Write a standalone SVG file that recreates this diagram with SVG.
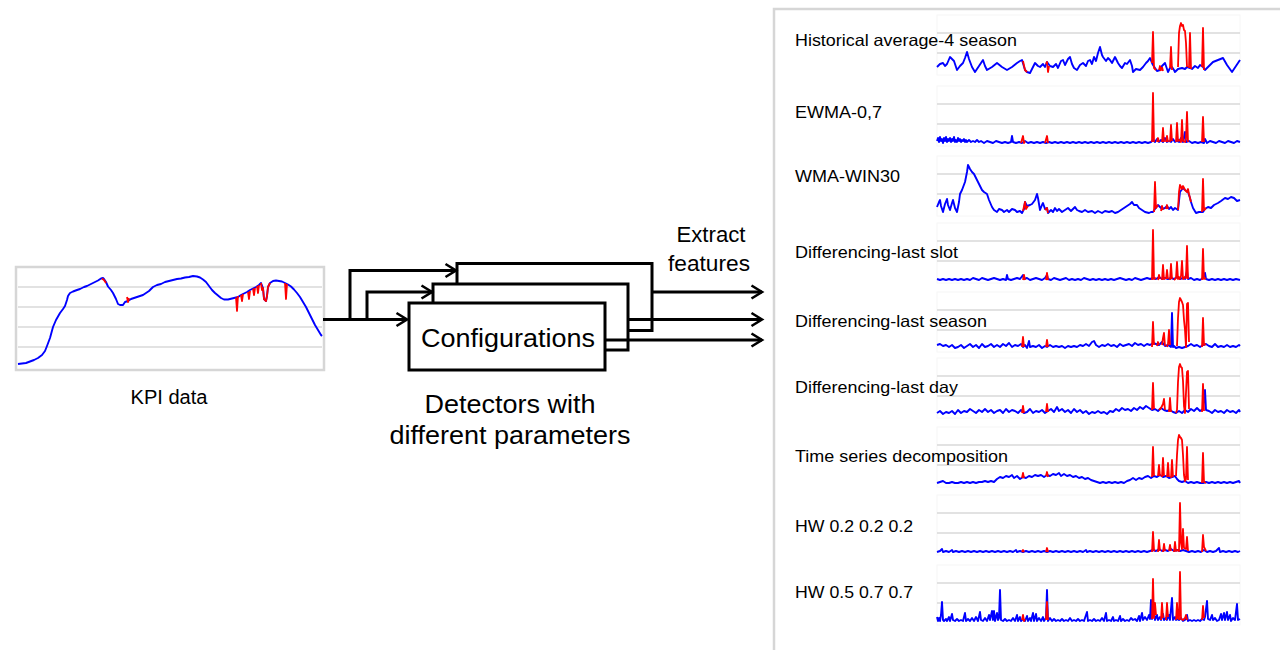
<svg xmlns="http://www.w3.org/2000/svg" width="1280" height="650" viewBox="0 0 1280 650">
  <defs>
    <style>
      .lbl { font-family: "Liberation Sans", Arial, sans-serif; fill: #000; }
      .frame { fill: #fff; stroke: #d6d6d6; stroke-width: 2.5; }
      .grid { stroke: #d9d9d9; stroke-width: 1.4; fill: none; }
      .plotbox { fill: none; stroke: #f6f6f6; stroke-width: 1; }
      .blue { fill: none; stroke: #0000ff; stroke-width: 1.9; stroke-linejoin: round; }
      .red { fill: none; stroke: #ff0000; stroke-width: 1.8; stroke-linejoin: round; }
      .box { fill: #fff; stroke: #000; stroke-width: 3; }
      .wire { fill: none; stroke: #000; stroke-width: 3; marker-end: url(#chev); }
    </style>
    <marker id="chev" markerUnits="userSpaceOnUse" markerWidth="16" markerHeight="18" viewBox="-13 -9 16 18" refX="0" refY="0" orient="auto">
      <path d="M-10.5,-6.5 L0,0 L-10.5,6.5" fill="none" stroke="#000" stroke-width="2.6"/>
    </marker>
  </defs>

  <!-- KPI input series -->
  <g id="kpi">
    <rect class="frame" x="16" y="267" width="308" height="103"/>
    <path class="grid" d="M18,287 H322 M18,307 H322 M18,327 H322 M18,347 H322"/>
    <path class="blue" d="M18,364 L22,363.5 26,363 30,361.5 34,360 38,358 42,355 45,351 47,346 50,338 53,327 56,320 60,313 63,309 65,306 67,300 68,296 70,293 73,291.5 77,290 80,289 84,287 87,286 91,284 95,282 98,280.5 101,278.5 103,278 104,279 106,282 108,286.5 111,290 113,293 116,299 118,304 120,305 123,305 125,302 128,301 131,299 134,298 137,297 140,296 143,295 146,293 149,291 151,289 153,287 157,285 161,284 165,282 169,281 173,280 177,279 181,278.5 185,277.5 189,277 193,276 197,276.5 200,277.5 203,279.5 206,282 209,286 212,290 215,293 218,295.5 221,298 224,299.5 228,299.5 232,298.5 236,297.5 238,297 241,295 244,293.5 247,292 250,290 253,288.5 256,287 259,285 261,283 263,288 264,299 266,301 267,296 268,287 270,283 273,281 276,280.5 279,281 282,281.5 285,283 288,284.5 291,286.5 294,289.5 297,293 300,297 303,302 306,307 309,313 312,319 315,325 318,330 321,335 322,336"/>
    <path class="red" d="M102,278.5 L104,280 106,283 M127,297 L128,302 129,298 M236,297.5 L237,311 238,296 M241,295 L242,301 243,294 M248,292 L249,299 250,291 M253,288.5 L254,295 255,288 M257,286 L258,293 259,285 M261,283 L262,290 263,288 264,299 266,301 267,296 268,287 270,283 M285,283 L286,299 287,284"/>
    <text class="lbl" x="169" y="404" font-size="20" text-anchor="middle" textLength="77" lengthAdjust="spacingAndGlyphs">KPI data</text>
  </g>

  <!-- stacked detector configurations -->
  <g id="detector-3"><rect class="box" x="457" y="263.5" width="195" height="67"/></g>
  <g id="detector-2"><rect class="box" x="433" y="284" width="195" height="66"/></g>
  <g id="detector-1">
    <rect class="box" x="409" y="303" width="196" height="67"/>
    <text class="lbl" x="508" y="347" font-size="25" text-anchor="middle" textLength="174" lengthAdjust="spacingAndGlyphs">Configurations</text>
  </g>
  <g id="detectors-caption">
    <text class="lbl" x="510" y="413" font-size="25" text-anchor="middle" textLength="171" lengthAdjust="spacingAndGlyphs">Detectors with</text>
    <text class="lbl" x="510" y="444" font-size="25" text-anchor="middle" textLength="241" lengthAdjust="spacingAndGlyphs">different parameters</text>
  </g>

  <!-- connectors -->
  <g id="connectors">
    <path class="wire" d="M323,319.5 H407"/>
    <path class="wire" d="M350,319.5 V270.5 H456"/>
    <path class="wire" d="M367,319.5 V292 H432"/>
    <path class="wire" d="M652,292 H762"/>
    <path class="wire" d="M628,319.5 H762"/>
    <path class="wire" d="M605,340 H762"/>
    <text class="lbl" x="711" y="242" font-size="22" text-anchor="middle" textLength="69" lengthAdjust="spacingAndGlyphs">Extract</text>
    <text class="lbl" x="709" y="271" font-size="22" text-anchor="middle" textLength="82" lengthAdjust="spacingAndGlyphs">features</text>
  </g>

  <!-- feature panel -->
  <g id="features">
    <rect class="frame" x="774" y="9" width="520" height="660"/>

    <g id="f-hist" transform="translate(937,73)">
      <rect class="plotbox" x="0" y="-58" width="303" height="60"/>
      <path class="grid" d="M0,-40 H303 M0,-20 H303"/>
      <path class="blue" d="M0,-6 L3,-9 6,-10 8,-7 10,-9 13,-16 15,-14 17,-12 20,-3 23,-7 26,-10 28,-15 30,-21 32,-14 35,-6 38,-1 42,-7 46,-13 48,-7 50,-3 55,-6 60,-10 65,-6 70,-3 75,-6 80,-10 83,-12 85,-13 88,-3 90,-1 93,0 96,-6 98,-10 101,-7 103,-6 106,-9 108,-6 110,-11 113,-7 116,-6 119,-9 121,-5 124,-12 126,-13 128,-8 131,-14 133,-16 135,-9 137,-5 140,-3 143,-8 146,-10 149,-7 151,-12 153,-13 155,-9 157,-16 159,-12 161,-20 163,-26 165,-18 166,-16 169,-12 171,-15 173,-13 175,-10 178,-16 181,-10 183,-7 185,-5 188,-10 190,-9 193,-13 195,-7 196,-1 199,-4 203,-3 206,-6 209,-10 211,-12 213,-15 215,-10 216,-8 218,-5 220,-2 223,-3 225,-7 228,-10 230,-4 231,-1 233,-5 235,-6 237,-3 238,-1 241,-4 245,-5 248,-4 250,-6 253,-5 255,-4 258,-7 261,-5 263,-8 266,-6 268,-3 272,-7 276,-11 281,-13 286,-15 290,-8 295,-1 299,-7 303,-13"/>
      <path class="red" d="M86,-12 L88,-3 90,-1 M109,-9 L110,-11 111,-1 112,-7 M215,-10 L216,-41 217,-5 219,-3 M222,-3 L223,-7 224,-2 M225,-6 L226,-2 M233,-5 L234,-26 235,-3 M241,-6 L242,-40 243,-47 244,-50 245,-47 246,-48 247,-43 248,-42 249,-30 250,-6 M252,-5 L253,-40 254,-4 M265,-6 L266,-45 267,-3"/>
    </g>
    <text class="lbl" x="795" y="46" font-size="16.5" textLength="222" lengthAdjust="spacingAndGlyphs">Historical average-4 season</text>

    <g id="f-ewma" transform="translate(937,144)">
      <rect class="plotbox" x="0" y="-58" width="303" height="60"/>
      <path class="grid" d="M0,-40 H303 M0,-20 H303"/>
      <path class="blue" d="M0,-3 L1,-6 2,-2 3,-7 4,-3 5,-5 6,-1 7,-6 8,-3 9,-7 10,-2 11,-5 12,-3 13,-6 14,-2 15,-5 16,-3 17,-7 18,-2 19,-4 20,-2 21,-6 22,-3 23,-5 24,-2 25,-4 26,-3 27,-5 28,-2 29,-4 30,-2 32,-4 34,-2 36,-3 38,-2 40,-4 42,-2 44,-3 47,-1 50,-3 53,-2 56,-1 59,-3 62,-2 65,-1 68,-2 71,-1 74,-2 75,-8 76,-2 79,-1 82,-2 85,-1 88,-3 91,-1 94,-2 97,-1 100,-2 103,-1 106,-2 109,-1 112,-2 115,-1 118,-2 121,-1 124,-2 127,-1 130,-2 133,-1 136,-2 139,-1 142,-2 145,-1 148,-2 151,-1 154,-2 157,-1 160,-2 163,-1 166,-2 169,-1 172,-2 175,-1 178,-2 181,-1 184,-2 187,-1 190,-2 193,-1 196,-2 199,-1 202,-2 205,-1 208,-2 211,-1 214,-2 216,-4 218,-2 220,-5 222,-2 224,-4 226,-2 228,-6 230,-2 232,-3 234,-2 236,-5 238,-2 240,-3 242,-2 244,-6 246,-2 248,-12 249,-2 252,-3 255,-1 258,-2 261,-1 264,-2 267,-1 268,-5 270,-1 273,-3 276,-2 279,-1 282,-3 285,-2 288,-1 291,-3 294,-2 297,-1 300,-3 303,-2"/>
      <path class="red" d="M84,-1 L86,-8 87,-1 88,-3 M108,-1 L110,-8 111,-1 M215,-2 L216,-51 217,-2 M220,-2 L221,-6 222,-2 M225,-2 L226,-16 227,-2 M229,-2 L230,-8 231,-2 M233,-2 L234,-19 235,-3 M239,-2 L240,-21 241,-3 243,-4 244,-2 245,-24 246,-3 248,-2 249,-6 250,-32 251,-2 M265,-2 L266,-27 267,-2"/>
    </g>
    <text class="lbl" x="795" y="118" font-size="16.5" textLength="87" lengthAdjust="spacingAndGlyphs">EWMA-0,7</text>

    <g id="f-wma" transform="translate(937,214)">
      <rect class="plotbox" x="0" y="-58" width="303" height="60"/>
      <path class="grid" d="M0,-40 H303 M0,-20 H303"/>
      <path class="blue" d="M0,-7 L2,-12 3,-14 4,-8 6,-2 8,-10 10,-15 11,-9 13,-4 15,-11 16,-14 18,-6 20,-2 22,-12 23,-20 25,-24 28,-32 30,-42 31,-49 33,-45 35,-42 37,-40 40,-34 42,-30 45,-24 47,-22 50,-20 52,-14 55,-7 57,-4 60,-2 62,-5 65,-4 67,-2 70,-4 72,-2 75,-5 78,-4 80,-2 83,-3 85,-1 87,-5 88,-12 90,-8 93,-9 95,-10 98,-14 100,-20 101,-16 103,-4 105,-9 106,-11 108,-5 110,-6 111,-1 114,-4 116,-2 118,-6 120,-3 122,-5 125,-2 128,-4 131,-6 134,-3 136,-5 138,-7 140,-4 142,-3 145,-2 148,-4 151,-2 155,-3 158,-1 161,-3 165,-1 168,-3 172,-2 175,-3 178,-1 181,-2 184,-4 187,-6 190,-8 193,-10 195,-12 197,-9 200,-9 202,-6 205,-4 208,-2 212,-1 214,-2 216,-2 218,-5 221,-9 223,-7 225,-5 228,-6 230,-8 232,-5 234,-7 236,-4 238,-6 241,-4 243,-22 246,-26 248,-24 251,-22 253,-16 254,-12 256,-6 259,-1 262,-2 266,-2 268,-5 271,-7 274,-6 277,-9 281,-11 284,-13 288,-16 291,-15 294,-17 297,-16 300,-13 303,-14"/>
      <path class="red" d="M86,-3 L88,-12 89,-5 91,-8 M108,-4 L110,-6 111,-1 M217,-2 L218,-32 219,-6 221,-9 M224,-3 L225,-8 226,-4 M229,-5 L230,-9 231,-5 M241,-4 L242,-22 243,-29 245,-25 246,-28 248,-24 250,-22 251,-25 252,-20 254,-12 M265,-2 L266,-35 267,-4 269,-6"/>
    </g>
    <text class="lbl" x="795" y="182" font-size="16.5" textLength="105" lengthAdjust="spacingAndGlyphs">WMA-WIN30</text>

    <g id="f-diff-slot" transform="translate(937,281)">
      <rect class="plotbox" x="0" y="-58" width="303" height="60"/>
      <path class="grid" d="M0,-40 H303 M0,-20 H303"/>
      <path class="blue" d="M0,-2 L3,-1 6,-2 9,-1 12,-2 15,-1 18,-2 21,-1 24,-2 27,-1 30,-2 33,-1 36,-3 39,-2 42,-1 45,-3 48,-2 51,-1 54,-2 57,-3 60,-2 63,-1 66,-2 69,-1 70,-6 71,-2 74,-1 77,-2 80,-3 83,-2 86,-6 87,-2 90,-3 93,-1 96,-2 99,-3 102,-2 105,-1 108,-3 110,-6 111,-2 114,-1 117,-3 120,-2 123,-1 126,-2 129,-3 132,-1 135,-2 138,-1 141,-2 144,-1 147,-3 150,-2 153,-1 156,-2 159,-1 162,-2 165,-1 168,-2 171,-1 174,-2 177,-1 180,-2 183,-3 186,-2 189,-1 192,-2 195,-1 198,-3 201,-2 204,-1 207,-2 210,-3 213,-2 216,-3 219,-2 222,-4 225,-2 228,-3 231,-2 234,-3 237,-2 240,-4 243,-2 246,-3 248,-2 250,-10 251,-2 254,-3 257,-1 260,-2 263,-1 266,-3 268,-8 269,-2 272,-1 275,-2 278,-1 281,-2 284,-1 287,-2 290,-1 293,-2 296,-1 299,-2 303,-1"/>
      <path class="red" d="M86,-1 L87,-6 88,-1 M109,-1 L110,-8 111,-1 M215,-1 L216,-51 217,-2 219,-3 M221,-1 L222,-6 223,-2 M225,-1 L226,-16 227,-2 228,-3 M229,-2 L230,-11 231,-2 M233,-1 L234,-17 235,-2 M237,-1 L239,-3 240,-19 241,-2 242,-4 243,-2 244,-5 245,-20 246,-2 248,-4 249,-3 250,-35 251,-2 M265,-1 L266,-32 267,-2 269,-3"/>
    </g>
    <text class="lbl" x="795" y="258" font-size="16.5" textLength="163" lengthAdjust="spacingAndGlyphs">Differencing-last slot</text>

    <g id="f-diff-season" transform="translate(937,350)">
      <rect class="plotbox" x="0" y="-58" width="303" height="60"/>
      <path class="grid" d="M0,-40 H303 M0,-20 H303"/>
      <path class="blue" d="M0,-5 L3,-6 6,-4 9,-5 12,-3 15,-5 18,-2 21,-3 24,-5 27,-2 30,-4 33,-6 36,-3 39,-5 42,-2 45,-6 48,-3 51,-4 54,-6 57,-3 60,-5 63,-3 66,-6 69,-4 72,-7 75,-3 78,-5 81,-4 84,-6 86,-3 88,-5 90,-2 92,-9 93,-3 96,-4 99,-3 102,-5 105,-2 108,-4 110,-3 113,-5 116,-3 119,-4 122,-3 125,-4 128,-2 131,-4 134,-3 137,-4 140,-3 143,-5 146,-4 149,-6 152,-4 155,-8 157,-9 159,-5 162,-3 165,-5 168,-4 171,-6 174,-4 177,-5 180,-3 183,-6 186,-4 189,-5 192,-6 195,-4 198,-7 201,-5 204,-6 207,-4 210,-6 213,-5 216,-7 219,-6 222,-5 225,-8 228,-4 231,-5 234,-3 235,-37 236,-3 237,-4 239,-2 242,-3 245,-2 248,-3 251,-4 254,-6 257,-4 260,-5 263,-3 266,-5 269,-6 272,-4 275,-3 278,-6 281,-3 284,-4 287,-3 290,-5 293,-3 296,-4 299,-3 302,-5 303,-4"/>
      <path class="red" d="M85,-3 L86,-13 87,-3 M109,-3 L110,-10 111,-3 M215,-3 L216,-28 217,-5 M220,-4 L221,-8 222,-5 M225,-5 L226,-12 227,-17 228,-4 M230,-3 L231,-6 232,-20 233,-5 M240,-4 L241,-32 242,-48 243,-52 244,-50 245,-48 246,-45 247,-30 248,-20 249,-3 250,-46 251,-47 252,-8 M265,-3 L266,-32 267,-5 269,-6"/>
    </g>
    <text class="lbl" x="795" y="326.5" font-size="16.5" textLength="192" lengthAdjust="spacingAndGlyphs">Differencing-last season</text>

    <g id="f-diff-day" transform="translate(937,416)">
      <rect class="plotbox" x="0" y="-58" width="303" height="60"/>
      <path class="grid" d="M0,-40 H303 M0,-20 H303"/>
      <path class="blue" d="M0,-3 L3,-5 6,-2 9,-4 12,-3 15,-5 18,-2 21,-6 24,-3 27,-5 30,-4 33,-7 36,-5 39,-3 42,-6 45,-4 48,-7 51,-4 54,-6 57,-3 60,-5 63,-6 66,-3 69,-7 72,-4 75,-6 78,-5 81,-3 84,-6 87,-3 90,-4 93,-7 96,-3 99,-5 102,-4 105,-6 108,-3 111,-5 114,-7 117,-4 120,-9 122,-5 125,-7 128,-4 131,-6 134,-3 137,-7 140,-4 143,-6 146,-3 149,-5 152,-2 155,-4 158,-3 161,-5 164,-3 167,-4 170,-2 173,-5 176,-4 179,-7 182,-5 185,-8 188,-6 191,-7 194,-5 197,-8 200,-6 203,-9 206,-7 209,-10 212,-8 215,-6 218,-7 221,-5 224,-8 227,-6 230,-5 233,-6 236,-4 239,-3 242,-5 245,-3 248,-6 251,-4 254,-7 257,-5 260,-8 263,-5 266,-7 268,-26 269,-6 272,-5 275,-3 278,-6 281,-4 284,-5 287,-3 290,-6 293,-4 296,-5 299,-3 302,-6 303,-4"/>
      <path class="red" d="M85,-3 L86,-10 87,-3 M109,-4 L110,-12 111,-4 M215,-6 L216,-33 217,-7 M222,-6 L224,-8 226,-12 227,-17 228,-6 M232,-4 L233,-18 234,-4 M239,-3 L240,-6 241,-34 242,-49 243,-52 244,-49 245,-48 246,-35 247,-10 248,-3 250,-44 251,-45 252,-7 M265,-4 L266,-32 267,-5"/>
    </g>
    <text class="lbl" x="795" y="393" font-size="16.5" textLength="163" lengthAdjust="spacingAndGlyphs">Differencing-last day</text>

    <g id="f-tsd" transform="translate(937,485)">
      <rect class="plotbox" x="0" y="-58" width="303" height="60"/>
      <path class="grid" d="M0,-40 H303 M0,-20 H303"/>
      <path class="blue" d="M0,-2 L3,-3 6,-4 9,-2 12,-2 15,-3 18,-2 21,-2 24,-3 27,-2 30,-3 33,-2 36,-3 39,-2 42,-3 45,-3 48,-4 51,-3 54,-4 57,-3 60,-6 63,-8 66,-7 69,-9 72,-8 75,-10 77,-7 80,-9 83,-6 86,-8 89,-7 92,-9 95,-8 98,-10 101,-9 104,-10 107,-8 110,-10 113,-9 116,-11 119,-10 122,-12 124,-9 127,-11 130,-9 133,-10 136,-8 139,-9 142,-7 145,-8 148,-6 151,-7 154,-5 157,-4 160,-3 163,-2 166,-3 169,-2 172,-3 175,-2 178,-3 181,-2 184,-3 187,-2 190,-4 193,-5 196,-7 199,-5 202,-7 205,-6 208,-8 211,-9 214,-7 217,-9 220,-8 223,-10 226,-8 229,-9 232,-7 235,-8 238,-9 240,-6 242,-4 245,-3 248,-4 251,-2 254,-3 257,-2 260,-3 263,-2 266,-2 269,-3 272,-2 275,-3 278,-2 281,-3 284,-2 287,-3 290,-2 293,-3 296,-2 299,-3 302,-4 303,-2"/>
      <path class="red" d="M85,-7 L86,-12 87,-7 M109,-9 L110,-13 111,-8 M215,-8 L216,-38 217,-9 M221,-9 L222,-20 223,-9 M225,-8 L226,-27 227,-9 M230,-8 L231,-22 232,-8 M234,-7 L235,-25 236,-8 M239,-9 L240,-30 241,-45 242,-50 243,-48 244,-47 245,-45 246,-30 247,-10 248,-4 249,-6 250,-38 251,-5 M265,-2 L266,-32 267,-3 269,-2"/>
    </g>
    <text class="lbl" x="795" y="461.5" font-size="16.5" textLength="213" lengthAdjust="spacingAndGlyphs">Time series decomposition</text>

    <g id="f-hw-222" transform="translate(937,553)">
      <rect class="plotbox" x="0" y="-58" width="303" height="60"/>
      <path class="grid" d="M0,-40 H303 M0,-20 H303"/>
      <path class="blue" d="M0,-1 L3,-2 5,-4 6,-1 9,-2 12,-1 15,-3 16,-1 19,-2 22,-1 25,-2 28,-1 31,-2 34,-1 37,-2 40,-1 43,-2 46,-1 49,-2 52,-1 55,-2 58,-1 61,-2 64,-1 67,-2 70,-1 73,-2 76,-1 79,-3 80,-1 83,-2 86,-1 89,-2 92,-1 95,-2 98,-1 101,-2 104,-1 107,-2 110,-1 113,-2 116,-1 119,-2 122,-1 125,-2 128,-1 131,-2 134,-1 137,-2 140,-1 143,-2 146,-1 149,-3 150,-1 153,-2 156,-1 159,-2 162,-1 165,-2 168,-1 171,-2 174,-1 177,-2 180,-1 183,-2 186,-1 189,-2 192,-1 195,-2 198,-1 201,-2 204,-1 207,-2 210,-1 213,-2 216,-3 219,-2 222,-4 225,-2 228,-3 231,-2 234,-4 237,-2 240,-3 243,-2 246,-3 249,-2 252,-1 255,-2 258,-1 261,-2 264,-1 267,-3 270,-1 273,-2 276,-1 279,-2 282,-5 283,-1 286,-2 289,-1 292,-2 295,-1 298,-2 301,-1 303,-2"/>
      <path class="red" d="M85,-1 L86,-3 87,-1 M109,-1 L110,-5 111,-1 M215,-1 L216,-21 217,-3 218,-2 M221,-1 L222,-13 223,-2 M226,-1 L227,-9 228,-2 M232,-2 L233,-8 234,-2 M237,-1 L238,-11 239,-2 241,-3 242,-2 243,-50 244,-10 245,-4 246,-24 247,-5 249,-4 250,-16 251,-2 M265,-1 L266,-18 267,-6 269,-2"/>
    </g>
    <text class="lbl" x="795" y="531.5" font-size="16.5" textLength="118" lengthAdjust="spacingAndGlyphs">HW 0.2 0.2 0.2</text>

    <g id="f-hw-577" transform="translate(937,623)">
      <rect class="plotbox" x="0" y="-58" width="303" height="60"/>
      <path class="grid" d="M0,-40 H303 M0,-20 H303"/>
      <path class="blue" d="M0,-6 L1,-2 2,-5 3,-2 4,-8 5,-21 6,-3 7,-2 9,-4 10,-2 12,-6 13,-2 15,-9 16,-3 18,-2 20,-4 22,-2 24,-3 26,-2 28,-10 29,-2 31,-4 33,-2 35,-5 37,-2 39,-6 41,-2 43,-11 44,-3 46,-2 48,-5 50,-2 52,-8 53,-3 55,-12 56,-3 57,-12 58,-2 60,-10 61,-3 62,-5 63,-33 64,-3 66,-2 68,-4 70,-2 72,-3 74,-2 76,-5 78,-2 80,-8 81,-2 83,-6 84,-2 86,-4 88,-2 90,-7 91,-2 93,-5 94,-2 96,-10 97,-2 99,-9 100,-2 102,-5 104,-2 106,-6 107,-2 109,-5 110,-33 111,-2 113,-5 115,-2 117,-4 119,-2 121,-3 123,-2 125,-4 127,-2 129,-3 131,-2 133,-5 135,-2 137,-3 139,-2 141,-4 143,-2 145,-3 147,-2 149,-8 150,-11 151,-2 153,-3 155,-2 157,-4 159,-2 161,-3 163,-2 165,-5 167,-2 169,-10 170,-2 172,-3 174,-2 176,-6 177,-2 179,-3 181,-2 183,-7 184,-2 186,-4 188,-2 190,-3 192,-2 194,-5 196,-3 198,-4 200,-2 202,-7 203,-2 205,-10 206,-3 208,-6 210,-3 212,-8 213,-4 214,-23 215,-4 217,-11 218,-3 220,-8 221,-3 223,-6 224,-3 226,-9 227,-3 229,-5 230,-3 232,-8 233,-3 235,-25 236,-3 238,-6 239,-3 241,-4 242,-3 244,-5 246,-2 248,-3 250,-8 251,-2 253,-3 255,-2 257,-3 259,-2 261,-3 263,-2 265,-4 267,-3 268,-6 270,-22 271,-4 273,-3 275,-8 276,-3 278,-5 280,-2 282,-3 284,-9 285,-3 287,-10 288,-3 290,-11 291,-3 293,-8 294,-2 296,-5 298,-3 300,-19 301,-3 303,-4"/>
      <path class="red" d="M85,-3 L86,-8 87,-2 88,-4 M109,-3 L110,-21 111,-3 M215,-4 L216,-44 217,-5 218,-20 219,-8 M224,-3 L225,-20 226,-5 M229,-3 L230,-20 231,-6 M239,-3 L240,-20 241,-4 M242,-3 L243,-51 244,-4 246,-3 248,-5 249,-8 250,-3 M265,-3 L266,-17 267,-5"/>
    </g>
    <text class="lbl" x="795" y="598" font-size="16.5" textLength="118" lengthAdjust="spacingAndGlyphs">HW 0.5 0.7 0.7</text>
  </g>
</svg>
